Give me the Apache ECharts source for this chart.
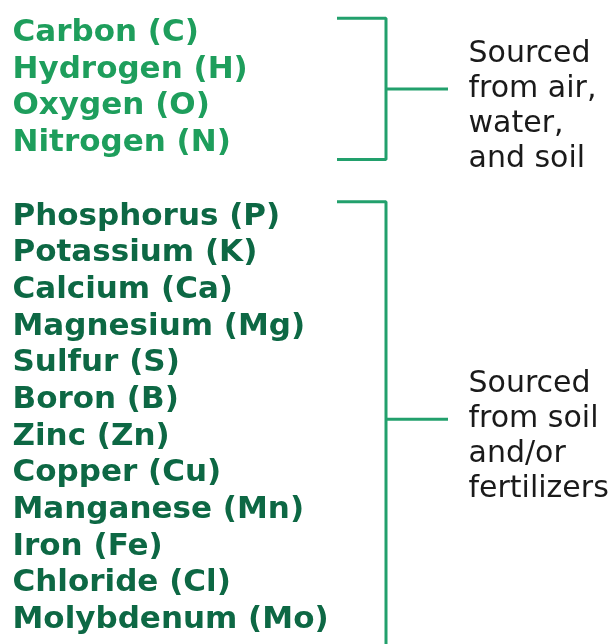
<!DOCTYPE html>
<html>
<head>
<meta charset="utf-8">
<script src="https://cdn.jsdelivr.net/npm/echarts@6/dist/echarts.min.js"></script>
<style>
  html, body { margin: 0; padding: 0; background: #fff; }
  #chart { width: 616px; height: 644px; }
</style>
</head>
<body>
<div id="chart"></div>
<script>
// Nutrients, grouped by where the plant gets them.
const airWaterSoil = ['Carbon (C)', 'Hydrogen (H)', 'Oxygen (O)', 'Nitrogen (N)'];
const soilFertilizer = [
    'Phosphorus (P)', 'Potassium (K)', 'Calcium (Ca)', 'Magnesium (Mg)',
    'Sulfur (S)', 'Boron (B)', 'Zinc (Zn)', 'Copper (Cu)',
    'Manganese (Mn)', 'Iron (Fe)', 'Chloride (Cl)', 'Molybdenum (Mo)'
];
const sourceLabels = ['Sourced\nfrom air,\nwater,\nand soil', 'Sourced\nfrom soil\nand/or\nfertilizers'];
const groupColors = ['#1e9e5c', '#0d6844'];

const bracketColor = '#22a06c';
const yMin = -0.9;
const yMax = 16.65;

// Each group takes consecutive rows, with one empty row between groups.
const groups = [airWaterSoil, soilFertilizer];
let row = 0;
const layout = groups.map((items, i) => {
    const rows = items.map(() => row++);
    row++;
    const top = rows[0] - 0.4;
    const bottom = rows[rows.length - 1] + 0.45;
    return {items, rows, top, bottom, mid: (top + bottom) / 2, last: i === groups.length - 1};
});

// Invisible anchor points; scatter fades labels unless opacity is 1.
const hidden = {color: 'rgba(0,0,0,0)', opacity: 1};
const series = [];
layout.forEach((g, i) => {
    series.push({
        type: 'scatter',
        symbolSize: 1,
        itemStyle: hidden,
        data: g.items.map((name, k) => [12, g.rows[k], name]),
        label: {
            show: true,
            position: 'right',
            distance: 0,
            formatter: (p) => p.value[2],
            color: groupColors[i],
            fontFamily: 'DejaVu Sans',
            fontWeight: 'bold',
            fontSize: 31
        }
    });

    // Bracket: the last one runs off the bottom edge.
    const bracket = g.last
        ? [[337, g.top], [386, g.top], [386, yMax]]
        : [[337, g.top], [386, g.top], [386, g.bottom], [337, g.bottom]];
    series.push({
        type: 'line',
        symbol: 'none',
        data: bracket,
        lineStyle: {color: bracketColor, width: 3},
        clip: true
    });
    series.push({
        type: 'line',
        symbol: 'none',
        data: [[386, g.mid], [448, g.mid]],
        lineStyle: {color: bracketColor, width: 3}
    });

    series.push({
        type: 'scatter',
        symbolSize: 1,
        itemStyle: hidden,
        data: [[468, g.mid, sourceLabels[i]]],
        label: {
            show: true,
            position: 'right',
            distance: 0,
            formatter: (p) => p.value[2],
            color: '#1a1a1a',
            fontFamily: 'DejaVu Sans',
            fontSize: 30,
            lineHeight: 35,
            verticalAlign: 'middle',
            offset: [0, 17.5]
        }
    });
});

const chart = echarts.init(document.getElementById('chart'));
chart.setOption({
    animation: false,
    backgroundColor: '#ffffff',
    grid: {left: 0, right: 0, top: 0, bottom: 0},
    xAxis: {type: 'value', min: 0, max: 616, show: false},
    yAxis: {type: 'value', min: yMin, max: yMax, inverse: true, show: false},
    series: series
});
</script>
</body>
</html>
